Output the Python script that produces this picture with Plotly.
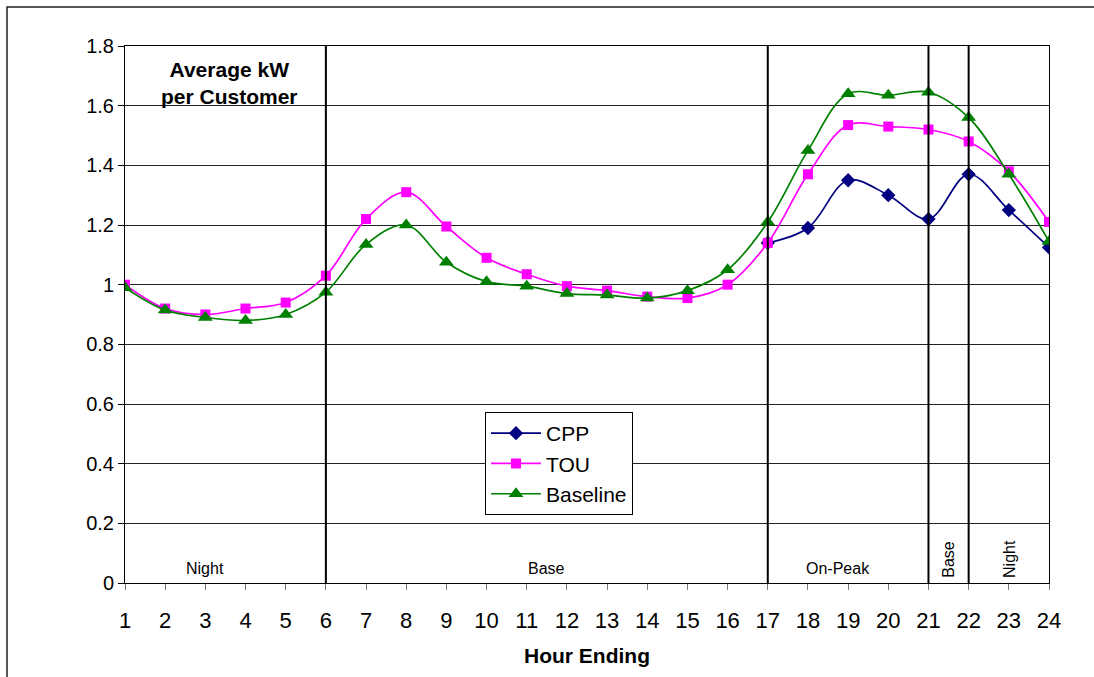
import plotly.graph_objects as go

# Hourly load profile: average kW per customer by hour ending
hours = list(range(1, 25))

cpp = [None] * 16 + [1.14, 1.19, 1.35, 1.30, 1.22, 1.37, 1.25, 1.125]
tou = [1.00, 0.92, 0.90, 0.92, 0.94, 1.03, 1.22, 1.31, 1.195, 1.09,
       1.035, 0.995, 0.98, 0.96, 0.955, 1.00, 1.14, 1.37, 1.535, 1.53,
       1.52, 1.48, 1.38, 1.21]
baseline = [0.99, 0.915, 0.89, 0.88, 0.90, 0.975, 1.135, 1.20, 1.075, 1.01,
            0.995, 0.97, 0.965, 0.955, 0.98, 1.05, 1.21, 1.45, 1.64, 1.635,
            1.645, 1.56, 1.37, 1.145]

# Rate period boundaries (hour ending) and period labels
period_edges = [6, 17, 21, 22]
period_labels = ["Night", "Base", "On-Peak", "Base", "Night"]
period_centers = [3, 11.5, 18.75, 21.5, 23.0]
period_angles = [0, 0, 0, -90, -90]

y_ticks = [0, 0.2, 0.4, 0.6, 0.8, 1, 1.2, 1.4, 1.6, 1.8]
y_tick_text = ["0", "0.2", "0.4", "0.6", "0.8", "1", "1.2", "1.4", "1.6", "1.8"]

FONT = "Arial, 'Liberation Sans', sans-serif"

fig = go.Figure()

fig.add_trace(go.Scatter(
    x=hours, y=cpp, name="CPP", mode="lines+markers",
    line=dict(color="#000080", width=1.7, shape="spline", smoothing=1),
    marker=dict(symbol="diamond", size=11, color="#000080"),
))
fig.add_trace(go.Scatter(
    x=hours, y=tou, name="TOU", mode="lines+markers",
    line=dict(color="#FF00FF", width=1.7, shape="spline", smoothing=1),
    marker=dict(symbol="square", size=10, color="#FF00FF"),
))
fig.add_trace(go.Scatter(
    x=hours, y=baseline, name="Baseline", mode="lines+markers",
    line=dict(color="#008000", width=1.7, shape="spline", smoothing=1),
    marker=dict(symbol="triangle-up", size=13, color="#008000"),
))

# Vertical period dividers
for h in period_edges:
    fig.add_shape(type="line", xref="x", yref="y", x0=h, x1=h, y0=0, y1=1.8,
                  line=dict(color="black", width=2), layer="above")

# Period labels along the bottom of the plot
for label, xc, ang in zip(period_labels, period_centers, period_angles):
    fig.add_annotation(
        x=xc, y=0.05 if ang == 0 else 0.08, xref="x", yref="y",
        text=label, showarrow=False, textangle=ang,
        font=dict(family=FONT, size=16, color="black"),
    )

# Outer chart frame (left and top edges visible)
fig.add_shape(type="rect", xref="paper", yref="paper",
              x0=-0.1277, x1=1.2, y0=-0.3, y1=1.0726,
              line=dict(color="#222222", width=1.5), layer="below")

fig.add_annotation(
    x=0.113, y=0.931, xref="paper", yref="paper",
    xanchor="center", yanchor="middle",
    text="<b>Average kW<br>per Customer</b>", showarrow=False,
    font=dict(family=FONT, size=21, color="black"), align="center",
)

fig.update_layout(
    width=1094, height=677,
    margin=dict(l=125, r=45, t=46, b=94),
    paper_bgcolor="white", plot_bgcolor="white",
    font=dict(family=FONT, color="black"),
    showlegend=True,
    legend=dict(
        x=0.3896, y=0.3184, xanchor="left", yanchor="top",
        bgcolor="white", bordercolor="black", borderwidth=1,
        font=dict(family=FONT, size=21, color="black"),
        itemwidth=50,
    ),
    xaxis=dict(
        range=[1, 24], tickmode="array", tickvals=hours,
        ticktext=[str(h) for h in hours],
        showgrid=False, zeroline=False,
        showline=True, linecolor="black", linewidth=1, mirror=True,
        ticks="outside", ticklen=6, tickcolor="#777777",
        tickfont=dict(family=FONT, size=22, color="black"),
        ticklabelstandoff=12,
        title=dict(text="<b>Hour Ending</b>", standoff=15,
                   font=dict(family=FONT, size=21, color="black")),
    ),
    yaxis=dict(
        range=[0, 1.8], tickmode="array", tickvals=y_ticks, ticktext=y_tick_text,
        showgrid=True, gridcolor="#222222", gridwidth=1, zeroline=False,
        showline=True, linecolor="black", linewidth=1, mirror=True,
        ticks="outside", ticklen=6, tickcolor="black",
        tickfont=dict(family=FONT, size=20, color="black"),
    ),
)

fig.write_html("out.html")
